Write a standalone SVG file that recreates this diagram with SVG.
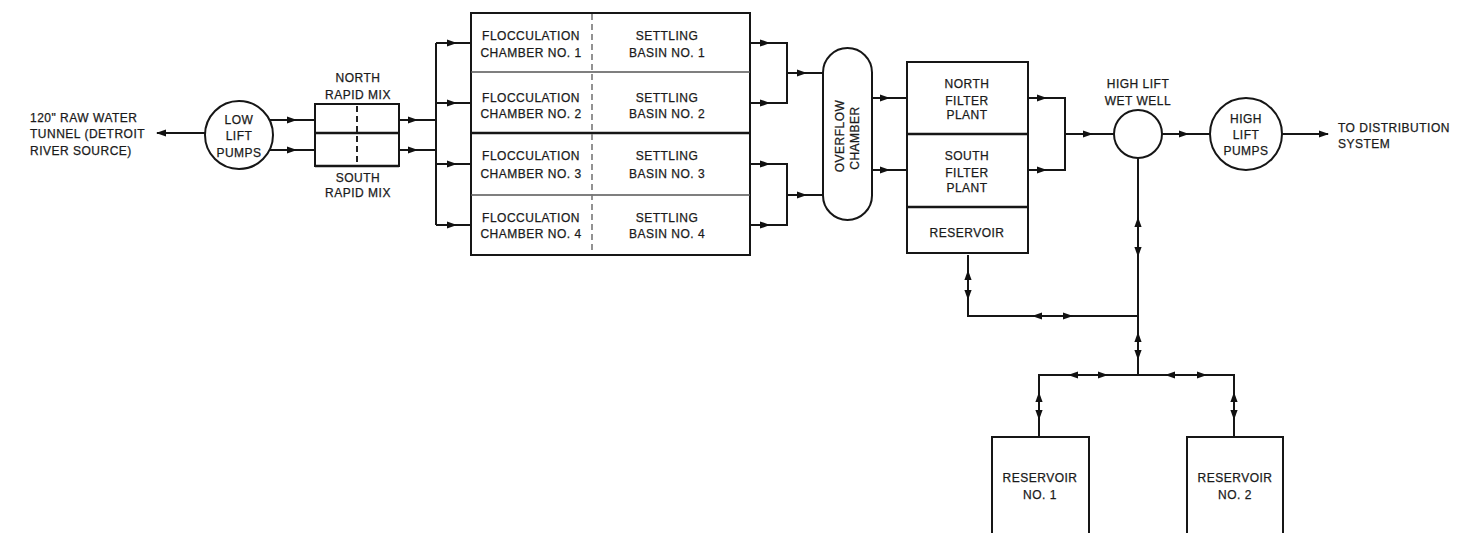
<svg xmlns="http://www.w3.org/2000/svg" xmlns:xlink="http://www.w3.org/1999/xlink" width="1471" height="533" viewBox="0 0 1471 533">
<style>
text{font-family:"Liberation Sans",Arial,sans-serif;font-size:12px;letter-spacing:0.5px;fill:#1a1a1a;stroke:#1a1a1a;stroke-width:0.25;text-anchor:middle}
.s{text-anchor:start}
.w{fill:#fff;stroke:#161616;stroke-width:2}
.ln{fill:none;stroke:#161616;stroke-width:2}
.th{stroke:#161616;stroke-width:2.6}
.lt{stroke:#555;stroke-width:1.6}
.da{stroke:#777;stroke-width:1.6;stroke-dasharray:6 4}
.ah{fill:#111}
</style>
<defs>
<path id="aR" class="ah" d="M5,0 L-5,-3.6 L-5,3.6 Z"/>
<path id="aL" class="ah" d="M-5,0 L5,-3.6 L5,3.6 Z"/>
<path id="aU" class="ah" d="M0,-5 L-3.6,5 L3.6,5 Z"/>
<path id="aD" class="ah" d="M0,5 L-3.6,-5 L3.6,-5 Z"/>
</defs>
<rect width="1471" height="533" fill="#fff"/>

<g id="connectors">
<path class="ln" d="M157,133 H205"/>
<use href="#aL" x="161" y="133"/>
<path class="ln" d="M270,120 H315 M270,150 H315"/>
<use href="#aR" x="292" y="120"/><use href="#aR" x="292" y="150"/>
<path class="ln" d="M399,120 H436 M399,150 H436"/>
<use href="#aR" x="413" y="120"/><use href="#aR" x="413" y="150"/>
<path class="ln" d="M436,43 V225 M436,43 H471 M436,103 H471 M436,164 H471 M436,225 H471"/>
<use href="#aR" x="452" y="43"/><use href="#aR" x="452" y="103"/><use href="#aR" x="452" y="164"/><use href="#aR" x="452" y="225"/>
<path class="ln" d="M750,43 H787 V103 H750 M787,73 H823 M750,164 H787 V225 H750 M787,195 H823"/>
<use href="#aR" x="765" y="43"/><use href="#aR" x="765" y="103"/><use href="#aR" x="765" y="164"/><use href="#aR" x="765" y="225"/>
<use href="#aR" x="802" y="73"/><use href="#aR" x="802" y="195"/>
<path class="ln" d="M872,98 H907 M872,170 H907"/>
<use href="#aR" x="885" y="98"/><use href="#aR" x="885" y="170"/>
<path class="ln" d="M1028,98 H1065 V170 H1028 M1065,134 H1114"/>
<use href="#aR" x="1042" y="98"/><use href="#aR" x="1042" y="170"/><use href="#aR" x="1088" y="134"/>
<path class="ln" d="M1162,134 H1210"/>
<use href="#aR" x="1184" y="134"/>
<path class="ln" d="M1282,134 H1328"/>
<use href="#aR" x="1324" y="134"/>
<path class="ln" d="M1138,158 V375"/>
<use href="#aU" x="1138" y="222"/><use href="#aD" x="1138" y="252"/>
<path class="ln" d="M968,255 V316 H1138"/>
<use href="#aU" x="968" y="275"/><use href="#aD" x="968" y="295"/>
<use href="#aL" x="1037" y="316"/><use href="#aR" x="1068" y="316"/>
<use href="#aU" x="1138" y="337"/><use href="#aD" x="1138" y="355"/>
<path class="ln" d="M1039,437 V375 H1234 V437"/>
<use href="#aL" x="1073" y="375"/><use href="#aR" x="1103" y="375"/>
<use href="#aL" x="1170" y="375"/><use href="#aR" x="1202" y="375"/>
<use href="#aU" x="1039" y="397"/><use href="#aD" x="1039" y="415"/>
<use href="#aU" x="1234" y="397"/><use href="#aD" x="1234" y="415"/>
</g>

<g id="source">
<text class="s" x="30" y="121.5">120" RAW WATER</text>
<text class="s" x="30" y="137.5">TUNNEL (DETROIT</text>
<text class="s" x="30" y="154.5">RIVER SOURCE)</text>
</g>

<g id="low-lift-pumps">
<circle class="w" cx="239" cy="135" r="34"/>
<text x="239" y="123.5">LOW</text>
<text x="239" y="139.5">LIFT</text>
<text x="239" y="156.5">PUMPS</text>
</g>

<g id="rapid-mix">
<rect class="w" x="315" y="104" width="84" height="62"/>
<line class="th" x1="315" y1="133" x2="399" y2="133"/>
<line class="th" x1="315" y1="166" x2="399" y2="166"/>
<line class="da" x1="357" y1="106" x2="357" y2="164" style="stroke:#222;stroke-width:2"/>
<text x="358" y="81.5">NORTH</text>
<text x="358" y="98.5">RAPID MIX</text>
<text x="358" y="181.5">SOUTH</text>
<text x="358" y="196.5">RAPID MIX</text>
</g>

<g id="flocculation-settling">
<rect class="w" x="471" y="13" width="279" height="242"/>
<line class="lt" x1="471" y1="72" x2="750" y2="72"/>
<line class="th" x1="471" y1="133" x2="750" y2="133"/>
<line class="lt" x1="471" y1="195" x2="750" y2="195"/>
<line class="da" x1="592" y1="14" x2="592" y2="254"/>
<text x="531" y="39.5">FLOCCULATION</text>
<text x="531" y="56.5">CHAMBER NO. 1</text>
<text x="667" y="39.5">SETTLING</text>
<text x="667" y="56.5">BASIN NO. 1</text>
<text x="531" y="101.5">FLOCCULATION</text>
<text x="531" y="117.5">CHAMBER NO. 2</text>
<text x="667" y="101.5">SETTLING</text>
<text x="667" y="117.5">BASIN NO. 2</text>
<text x="531" y="159.5">FLOCCULATION</text>
<text x="531" y="177.5">CHAMBER NO. 3</text>
<text x="667" y="159.5">SETTLING</text>
<text x="667" y="177.5">BASIN NO. 3</text>
<text x="531" y="221.5">FLOCCULATION</text>
<text x="531" y="237.5">CHAMBER NO. 4</text>
<text x="667" y="221.5">SETTLING</text>
<text x="667" y="237.5">BASIN NO. 4</text>
</g>

<g id="overflow-chamber">
<rect class="w" x="823" y="48" width="49" height="172" rx="24.5" ry="24.5"/>
<text transform="translate(844,136) rotate(-90)">OVERFLOW</text>
<text transform="translate(859,138) rotate(-90)">CHAMBER</text>
</g>

<g id="filter-plant">
<rect class="w" x="907" y="62" width="121" height="191"/>
<line class="th" x1="907" y1="134" x2="1028" y2="134"/>
<line class="th" x1="907" y1="207" x2="1028" y2="207"/>
<text x="967" y="87.5">NORTH</text>
<text x="967" y="104.5">FILTER</text>
<text x="967" y="118.5">PLANT</text>
<text x="967" y="159.5">SOUTH</text>
<text x="967" y="176.5">FILTER</text>
<text x="967" y="191.5">PLANT</text>
<text x="967" y="236.5">RESERVOIR</text>
</g>

<g id="wet-well">
<circle class="w" cx="1138" cy="134" r="24"/>
<text x="1138" y="87.5">HIGH LIFT</text>
<text x="1138" y="105">WET WELL</text>
</g>

<g id="high-lift-pumps">
<circle class="w" cx="1246" cy="134" r="36"/>
<text x="1246" y="122.5">HIGH</text>
<text x="1246" y="138.5">LIFT</text>
<text x="1246" y="154.5">PUMPS</text>
</g>

<g id="distribution">
<text class="s" x="1338" y="132">TO DISTRIBUTION</text>
<text class="s" x="1338" y="147.5">SYSTEM</text>
</g>

<g id="reservoir-1">
<rect class="w" x="992" y="437" width="97" height="110"/>
<text x="1040" y="482">RESERVOIR</text>
<text x="1040" y="499">NO. 1</text>
</g>

<g id="reservoir-2">
<rect class="w" x="1187" y="437" width="96" height="110"/>
<text x="1235" y="482">RESERVOIR</text>
<text x="1235" y="499">NO. 2</text>
</g>
</svg>
